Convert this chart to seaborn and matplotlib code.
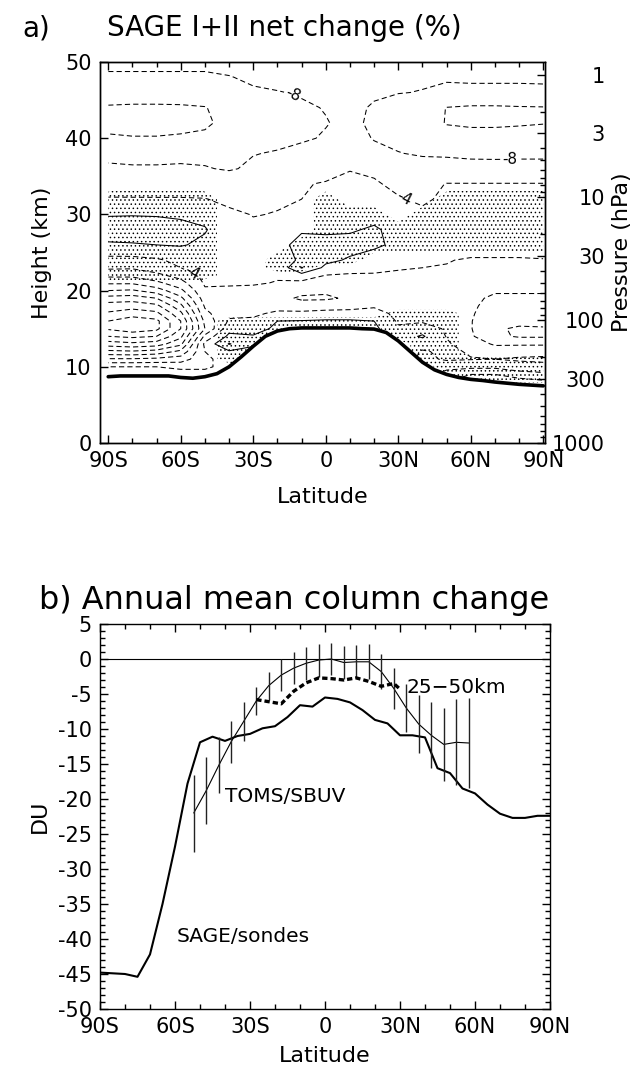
import numpy as np
import matplotlib
matplotlib.use("Agg")
import matplotlib.pyplot as plt
import seaborn as sns
from matplotlib.patches import Polygon
from matplotlib.ticker import MultipleLocator, FixedLocator

# ------------------------------
# Panel a data: SAGE I+II net change (%) on a latitude x height grid
# ------------------------------
lat_grid = [-90, -80, -70, -60, -50, -40, -30, -20, -10, 0, 10, 20, 30, 40, 50, 60, 70, 80, 90]
z_grid = [8, 9, 10, 11, 12, 13, 14, 15, 16, 17, 18, 19, 20, 21, 22, 23, 24,
          26, 28, 30, 32, 34, 36, 38, 40, 42, 44, 46, 48, 50]

# one list per latitude column, values bottom (8 km) to top (50 km)
c_90s = [-1, -1, -4, -11.5, -19, -26, -32, -36.5, -36, -32.5, -30, -25.5, -20, -15.5, -11, -7.3, -5.2, -0.5, 2, -0.3, -3.8, -5.3, -7.4, -9, -11.6, -13, -12.4, -10, -8.6, -7]
c_80s = [-1, -1, -4, -11.5, -19.5, -27, -33, -38.5, -38.5, -34, -30.5, -26, -20.5, -15.5, -11, -7.5, -5.2, -0.3, 2, -0.2, -3.8, -5.4, -7.6, -9.2, -11.8, -13.3, -12.6, -10, -8.6, -7]
c_70s = [-1, -1, -4, -11, -18.5, -26, -32, -37, -37, -33, -29, -24, -18, -13, -9, -6, -4.5, 0, 1.8, -0.3, -3.8, -5.5, -7.6, -9.2, -11.8, -13.3, -12.6, -10, -8.6, -7]
c_60s = [-2, -2, -5, -10, -15, -21, -25, -28, -28, -25, -21, -17, -13, -9.5, -6.5, -4, -3, 0.3, 1, -0.5, -3.8, -5.5, -7.5, -9, -11.6, -13, -12.5, -10, -8.6, -7]
c_50s = [-3, -3, -4.5, -5, -4, -3, -7, -12, -11, -9, -7.5, -6, -4.5, -3.5, -3, -2.5, -2, -0.8, 0.3, -1.2, -3.9, -5.6, -7.8, -8.8, -11, -12.8, -12.2, -9.5, -8.6, -7]
c_40s = [-3, -3, -3, -2, -0.5, 4.3, 1, -1.5, -3.5, -5, -5.5, -5, -4.3, -3.8, -3.5, -3, -2.5, -2, -2.5, -3.5, -4.6, -6, -8.3, -9, -9.8, -10.5, -10.2, -9, -8.1, -7.2]
c_30s = [-1, -1, -1, -1, -1, 0.5, 0.3, -1.5, -3, -5, -6.5, -6, -4.5, -3.8, -3.5, -3.3, -3, -2.8, -3.5, -4.1, -4.8, -5.3, -7.5, -8.1, -9, -9.6, -9.5, -8.3, -7.6, -7]
c_20s = [-1, -1, -1, -1, -1, -1, 1, 0.8, 0, -3, -6, -7, -5.5, -4.1, -3.8, -3.5, -3, -1.5, -2.5, -3.9, -4.3, -4.8, -6.5, -7.8, -8.7, -9.2, -9, -8.1, -7.3, -7]
c_10s = [0, 0, 0, 0, 0, 0, 0, 1, 0.2, -3, -6.5, -8.5, -7, -5, -1.5, 4.3, 1, 1.5, -0.5, -3.8, -4, -4.2, -5.5, -7.3, -8.3, -8.6, -8.3, -7.8, -7.2, -7]
c_eq = [0, 0, 0, 0, 0, 0, 0, 1.5, 0.5, -2.5, -6, -8.5, -7.5, -5.5, -4.1, -1, 1, 2, -1, -2.5, -3, -3.8, -5, -7, -7.8, -8.1, -7.9, -7.5, -7.2, -7]
c_10n = [0, 0, 0, 0, 0, 0, 0, 1.5, 0.5, -2.5, -5.5, -7.5, -7, -5.5, -4.3, -3, -0.5, 1.5, -0.5, -2, -2.8, -3.5, -4.1, -7, -7.3, -7.5, -7.3, -7.2, -7.2, -7]
c_20n = [0, 0, 0, 0, 0, 0, 0, 1, 0, -2.5, -4.5, -5.5, -5, -4.5, -4.2, -3.5, -2.5, 1, 0.6, -1.5, -3.2, -3.7, -4.5, -7.5, -8.1, -8.4, -8.3, -7.6, -7.3, -7]
c_30n = [-1, -1, -1, -1, -1, -1, -2, -3.5, -4.5, -5, -5, -4.8, -4.6, -4.4, -4.2, -3.9, -3.6, -1.2, -1.5, -2.7, -3.8, -4.6, -6, -7.9, -8.7, -9.3, -9.2, -7.9, -7.5, -7.2]
c_40n = [-5, -5, -5, -5, -4.5, -2, 0.5, -2, -4.5, -5.5, -5.2, -5, -4.8, -4.6, -4.3, -4, -3.7, -2.5, -2.8, -3.5, -4.4, -5, -6.8, -8.3, -9.3, -10.2, -10, -8.1, -7.6, -7.3]
c_50n = [-12, -10, -6.5, -3.5, -3, -3.5, -4.2, -4.5, -4.5, -4.6, -4.6, -4.5, -4.4, -4.3, -4.2, -4.1, -3.9, -3, -2.8, -3.4, -3.5, -3.9, -6.2, -8.6, -10.5, -12.2, -12.1, -8.4, -7.8, -7.3]
c_60n = [-13, -12, -7, -3.8, -4.5, -6, -7.5, -7.8, -7.8, -7.6, -7.3, -7, -6.5, -5.5, -5, -4.6, -4.2, -3, -2.6, -3, -3.3, -3.9, -6.3, -9, -10.8, -12.5, -12.5, -8.6, -7.6, -7]
c_70n = [-14, -12, -7, -4, -6, -8.5, -11, -11.5, -11, -10, -9.5, -8.8, -7.5, -6, -5, -4.5, -4.2, -3, -2.5, -2.7, -3.2, -3.9, -6.3, -9.1, -10.8, -12.5, -12.5, -8.6, -7.6, -6.8]
c_80n = [-14, -10, -5.5, -3.5, -5.5, -8.5, -12.5, -12.5, -11, -10, -9.5, -8.8, -7.5, -6, -5, -4.5, -4.2, -3, -2.5, -2.5, -3, -3.9, -6.3, -9, -10.8, -12.3, -12.3, -8.6, -7.6, -6.5]
c_90n = [-13, -9, -5, -3.3, -5.3, -8.5, -12.5, -12.3, -11, -10, -9.5, -8.8, -7.5, -6, -5, -4.6, -4.1, -3, -2.5, -2.5, -3, -3.9, -6.3, -9, -10.8, -12.1, -12.2, -8.5, -7.6, -6.5]

# stippled (significant) cells, 1 = stippled, same column layout
s_90s = [0] * 14 + [1] * 7 + [0] * 9
s_80s = [0] * 14 + [1] * 7 + [0] * 9
s_70s = [0] * 14 + [1] * 7 + [0] * 9
s_60s = [0] * 14 + [1] * 7 + [0] * 9
s_50s = [0] * 14 + [1] * 7 + [0] * 9
s_40s = [0, 0, 0, 1, 1, 1, 1, 1, 1, 0, 0, 0, 0, 0, 0, 0, 0, 0, 0, 0, 0, 0, 0, 0, 0, 0, 0, 0, 0, 0]
s_30s = [0, 0, 0, 1, 1, 1, 1, 1, 1, 0, 0, 0, 0, 0, 0, 0, 0, 0, 0, 0, 0, 0, 0, 0, 0, 0, 0, 0, 0, 0]
s_20s = [0, 0, 0, 0, 0, 0, 0, 1, 1, 0, 0, 0, 0, 0, 0, 1, 1, 0, 0, 0, 0, 0, 0, 0, 0, 0, 0, 0, 0, 0]
s_10s = [0, 0, 0, 0, 0, 0, 0, 1, 1, 0, 0, 0, 0, 0, 0, 1, 1, 1, 0, 0, 0, 0, 0, 0, 0, 0, 0, 0, 0, 0]
s_eq = [0, 0, 0, 0, 0, 0, 0, 1, 1, 0, 0, 0, 0, 0, 0, 0, 1, 1, 1, 1, 1, 0, 0, 0, 0, 0, 0, 0, 0, 0]
s_10n = [0, 0, 0, 0, 0, 0, 0, 1, 1, 0, 0, 0, 0, 0, 0, 0, 1, 1, 1, 1, 0, 0, 0, 0, 0, 0, 0, 0, 0, 0]
s_20n = [0, 0, 0, 0, 0, 0, 0, 1, 1, 0, 0, 0, 0, 0, 0, 0, 0, 1, 1, 1, 0, 0, 0, 0, 0, 0, 0, 0, 0, 0]
s_30n = [0, 0, 0, 0, 0, 0, 1, 1, 1, 1, 0, 0, 0, 0, 0, 0, 0, 1, 1, 0, 0, 0, 0, 0, 0, 0, 0, 0, 0, 0]
s_40n = [0, 0, 0, 1, 1, 1, 1, 1, 1, 1, 0, 0, 0, 0, 0, 0, 0, 1, 1, 1, 0, 0, 0, 0, 0, 0, 0, 0, 0, 0]
s_50n = [1, 1, 1, 1, 1, 1, 1, 1, 1, 1, 0, 0, 0, 0, 0, 0, 0, 1, 1, 1, 1, 0, 0, 0, 0, 0, 0, 0, 0, 0]
s_60n = [1, 1, 1, 1, 0, 0, 0, 0, 0, 0, 0, 0, 0, 0, 0, 0, 0, 1, 1, 1, 1, 0, 0, 0, 0, 0, 0, 0, 0, 0]
s_70n = [1, 1, 1, 1, 0, 0, 0, 0, 0, 0, 0, 0, 0, 0, 0, 0, 0, 1, 1, 1, 1, 0, 0, 0, 0, 0, 0, 0, 0, 0]
s_80n = [1, 1, 1, 1, 0, 0, 0, 0, 0, 0, 0, 0, 0, 0, 0, 0, 0, 1, 1, 1, 1, 0, 0, 0, 0, 0, 0, 0, 0, 0]
s_90n = [1, 1, 1, 1, 0, 0, 0, 0, 0, 0, 0, 0, 0, 0, 0, 0, 0, 1, 1, 1, 1, 0, 0, 0, 0, 0, 0, 0, 0, 0]

# tropopause (thick line)
trop_lat = [-90, -85, -80, -75, -70, -65, -60, -55, -50, -45, -40, -35, -30, -25, -20, -15, -10, -5, 0,
            5, 10, 15, 20, 25, 30, 35, 40, 45, 50, 55, 60, 65, 70, 75, 80, 85, 90]
trop_z = [8.7, 8.8, 8.8, 8.8, 8.8, 8.8, 8.6, 8.5, 8.7, 9.1, 10.0, 11.3, 12.7, 14.0, 14.7, 15.0, 15.1, 15.1, 15.1,
          15.1, 15.1, 15.0, 14.95, 14.5, 13.4, 12.0, 10.6, 9.6, 9.0, 8.6, 8.35, 8.2, 8.0, 7.85, 7.7, 7.6, 7.5]

# contour levels (%) and the labelled ones
levels = [-40, -36, -32, -28, -24, -20, -16, -12, 0, 4]
label_pos_m8 = [(-14, 45.4), (76, 37.3)]
label_pos_m4 = [(32, 31.8), (-56, 21.8)]

# pressure axis
p_major = [1, 3, 10, 30, 100, 300, 1000]
p_minor = [2, 4, 5, 6, 7, 8, 9, 20, 40, 50, 60, 70, 80, 90, 200, 400, 500, 600, 700, 800, 900]
scale_height = 7.0

# ------------------------------
# Panel b data: annual mean column change (DU)
# ------------------------------
sage_lat = [-90, -85, -80, -75, -70, -65, -60, -55, -50, -45, -40, -35, -30, -25, -20, -15, -10, -5, 0,
            5, 10, 15, 20, 25, 30, 35, 40, 45, 50, 55, 60, 65, 70, 75, 80, 85, 90]
sage_du = [-44.8, -44.9, -45.0, -45.4, -42.2, -35.0, -26.8, -17.8, -11.9, -11.1, -11.7, -11.0, -10.7, -9.9,
           -9.6, -8.3, -6.6, -6.8, -5.5, -5.7, -6.2, -7.3, -8.7, -9.2, -10.9, -10.9, -11.2, -15.6, -16.3,
           -18.5, -19.2, -20.8, -22.1, -22.7, -22.7, -22.4, -22.4]

toms_lat = [-52.5, -47.5, -42.5, -37.5, -32.5, -27.5, -22.5, -17.5, -12.5, -7.5, -2.5, 2.5,
            7.5, 12.5, 17.5, 22.5, 27.5, 32.5, 37.5, 42.5, 47.5, 52.5, 57.5]
toms_du = [-22.0, -18.8, -15.2, -11.8, -8.9, -6.0, -3.8, -2.3, -1.3, -0.6, -0.15, 0.0,
           -0.5, -0.4, -0.4, -1.8, -4.2, -7.0, -9.3, -10.9, -12.2, -11.9, -12.0]
toms_err = [5.5, 4.8, 4.0, 3.0, 2.8, 2.05, 2.0, 2.3, 2.3, 2.35, 2.35, 2.3,
            2.35, 2.35, 2.5, 2.5, 2.95, 3.4, 4.15, 4.7, 5.2, 6.15, 6.45]

upper_lat = [-27.5, -22.5, -17.5, -12.5, -7.5, -2.5, 2.5, 7.5, 12.5, 17.5, 22.5, 27.5, 30]
upper_du = [-5.8, -6.1, -6.4, -4.6, -3.4, -2.7, -2.8, -3.0, -2.7, -3.2, -3.9, -3.5, -4.3]

lat_ticks = [-90, -60, -30, 0, 30, 60, 90]
lat_labels = ["90S", "60S", "30S", "0", "30N", "60N", "90N"]

# ------------------------------
# Style
# ------------------------------
sns.set_theme(style="ticks")
plt.rcParams.update({
    "font.family": ["DejaVu Sans"],
    "axes.unicode_minus": False,
    "axes.linewidth": 1.0,
    "axes.edgecolor": "black",
    "axes.labelcolor": "black",
    "text.color": "black",
    "xtick.color": "black",
    "ytick.color": "black",
    "xtick.labelcolor": "black",
    "ytick.labelcolor": "black",
    "xtick.direction": "in",
    "ytick.direction": "in",
    "hatch.color": "black",
    "hatch.linewidth": 0.55,
})

W, H = 642, 1072
fig = plt.figure(figsize=(W / 100, H / 100), dpi=100)
fig.patch.set_facecolor("white")

TICK_FS = 15
LAB_FS = 16
DASH = (0, (5, 3))

def style_lat_axis(ax):
    ax.set_xticks(lat_ticks)
    ax.set_xticklabels(lat_labels, fontsize=TICK_FS)
    ax.xaxis.set_minor_locator(MultipleLocator(10))
    ax.tick_params(axis="x", which="major", direction="in", length=6, width=1, top=True, pad=6)
    ax.tick_params(axis="x", which="minor", direction="in", length=3.5, width=1, top=True)
    ax.set_xlabel("Latitude", fontsize=LAB_FS)

# ------------------------------
# Panel a
# ------------------------------
ax_a = fig.add_axes([100 / W, (H - 443) / H, 445 / W, 381 / H])
field = np.array([c_90s, c_80s, c_70s, c_60s, c_50s, c_40s, c_30s, c_20s, c_10s, c_eq,
                  c_10n, c_20n, c_30n, c_40n, c_50n, c_60n, c_70n, c_80n, c_90n]).T
stip = np.array([s_90s, s_80s, s_70s, s_60s, s_50s, s_40s, s_30s, s_20s, s_10s, s_eq,
                 s_10n, s_20n, s_30n, s_40n, s_50n, s_60n, s_70n, s_80n, s_90n], dtype=float).T

# region above the tropopause, used to clip contours and stippling
clip_xy = np.column_stack([trop_lat + [90, -90], trop_z + [50, 50]])
clip_poly = Polygon(clip_xy, closed=True, transform=ax_a.transData, facecolor="none", edgecolor="none")
ax_a.add_patch(clip_poly)

hf = ax_a.contourf(lat_grid, z_grid, stip, levels=[0.5, 1.5], colors="none", hatches=["...."])
hf.set_edgecolor("black")
hf.set_linewidth(0)
hf.set_clip_path(clip_poly)

line_styles = [DASH if lv < 0 else "solid" for lv in levels]
cs = ax_a.contour(lat_grid, z_grid, field, levels=levels, colors="black",
                  linewidths=0.75, linestyles=line_styles)
cs.set_clip_path(clip_poly)
for lv, pos in [(-8, label_pos_m8), (-4, label_pos_m4)]:
    cl = ax_a.contour(lat_grid, z_grid, field, levels=[lv], colors="black",
                      linewidths=0.75, linestyles=[DASH])
    cl.set_clip_path(clip_poly)
    ax_a.clabel(cl, fmt="%d", fontsize=11, inline=True, inline_spacing=2, manual=pos)

sns.lineplot(x=trop_lat, y=trop_z, ax=ax_a, color="black", lw=2.6)

ax_a.set_xlim(-93.4, 90.7)
ax_a.set_ylim(0, 50)
style_lat_axis(ax_a)
ax_a.set_yticks([0, 10, 20, 30, 40, 50])
ax_a.set_yticklabels(["0", "10", "20", "30", "40", "50"], fontsize=TICK_FS)
ax_a.tick_params(axis="y", direction="in", length=6, width=1, right=False, pad=6)
ax_a.set_ylabel("Height (km)", fontsize=LAB_FS)
ax_a.yaxis.set_label_coords(-0.108, 0.5)
ax_a.xaxis.set_label_coords(0.5, -0.1155)

ax_p = ax_a.twinx()
ax_p.set_ylim(0, 50)
ax_p.set_yticks([scale_height * np.log(1000 / p) for p in p_major])
ax_p.set_yticklabels([str(p) for p in p_major], fontsize=TICK_FS)
ax_p.yaxis.set_minor_locator(FixedLocator([scale_height * np.log(1000 / p) for p in p_minor]))
ax_p.tick_params(axis="y", which="major", direction="in", length=6, width=1, pad=43)
ax_p.tick_params(axis="y", which="minor", direction="in", length=3.5, width=1)
for t in ax_p.get_yticklabels():
    t.set_horizontalalignment("right")
ax_p.set_ylabel("Pressure (hPa)", fontsize=LAB_FS)
ax_p.yaxis.set_label_coords(1.15, 0.5)

fig.text(22 / W, 1 - 28 / H, "a)", fontsize=20, va="center", ha="left")
fig.text(107 / W, 1 - 28 / H, "SAGE I+II net change (%)", fontsize=20, va="center", ha="left")

# ------------------------------
# Panel b
# ------------------------------
ax_b = fig.add_axes([100 / W, (H - 1009) / H, 450 / W, 385 / H])
ax_b.axhline(0, color="black", lw=0.8)
sns.lineplot(x=sage_lat, y=sage_du, ax=ax_b, color="black", lw=1.5)
sns.lineplot(x=toms_lat, y=toms_du, ax=ax_b, color="black", lw=0.8)
lo = [m - e for m, e in zip(toms_du, toms_err)]
hi = [m + e for m, e in zip(toms_du, toms_err)]
ax_b.vlines(toms_lat, lo, hi, color="#222222", lw=1.0)
sns.lineplot(x=upper_lat, y=upper_du, ax=ax_b, color="black", lw=2.4, linestyle=(0, (1.6, 0.9)))

ax_b.text(-40, -19.7, "TOMS/SBUV", fontsize=14.5, va="center", ha="left")
ax_b.text(-59.3, -39.7, "SAGE/sondes", fontsize=14.5, va="center", ha="left")
ax_b.text(32.7, -4.1, "25\u221250km", fontsize=14.5, va="center", ha="left")

ax_b.set_xlim(-90, 90)
ax_b.set_ylim(-50, 5)
style_lat_axis(ax_b)
ax_b.set_yticks(list(range(-50, 6, 5)))
ax_b.set_yticklabels([str(v) for v in range(-50, 6, 5)], fontsize=TICK_FS)
ax_b.yaxis.set_minor_locator(MultipleLocator(1))
ax_b.tick_params(axis="y", which="major", direction="in", length=6, width=1, right=True, pad=6)
ax_b.tick_params(axis="y", which="minor", direction="in", length=3.5, width=1, right=True)
ax_b.set_ylabel("DU", fontsize=LAB_FS)
ax_b.yaxis.set_label_coords(-0.111, 0.5)
ax_b.xaxis.set_label_coords(0.5, -0.096)

fig.text(39 / W, 1 - 600 / H, "b) Annual mean column change", fontsize=23, va="center", ha="left")

fig.savefig("out.png", dpi=100)
